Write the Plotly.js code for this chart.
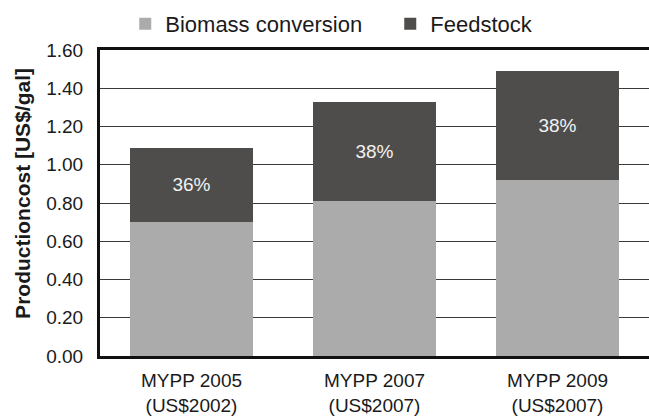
<!DOCTYPE html>
<html>
<head>
<meta charset="utf-8">
<script src="https://cdn.plot.ly/plotly-3.0.1.min.js"></script>
<style>html,body{margin:0;padding:0;background:#fff;}#chart{width:649px;height:419px;}</style>
</head>
<body>
<div id="chart"></div>
<script>
var categories = ["MYPP 2005<br>(US$2002)", "MYPP 2007<br>(US$2007)", "MYPP 2009<br>(US$2007)"];
var biomassConversion = [0.70, 0.81, 0.92];
var feedstock = [0.39, 0.52, 0.57];
var feedstockShare = ["36%", "38%", "38%"];
var yTickValues = [0, 0.2, 0.4, 0.6, 0.8, 1.0, 1.2, 1.4, 1.6];
var yTickLabels = ["0.00", "0.20", "0.40", "0.60", "0.80", "1.00", "1.20", "1.40", "1.60"];
var yTitle = "<b>Productioncost [US$/gal]</b>";

var FONT = "Liberation Sans, Arial, sans-serif";

var traces = [
  {
    type: "bar", name: "Biomass conversion", x: categories, y: biomassConversion,
    marker: {color: "#aaabaa", line: {width: 0}}, hoverinfo: "skip"
  },
  {
    type: "bar", name: "Feedstock", x: categories, y: feedstock,
    text: feedstockShare, textposition: "inside", insidetextanchor: "middle",
    textfont: {family: FONT, size: 19, color: "#f2f2f2"},
    marker: {color: "#4e4d4b", line: {width: 0}}, hoverinfo: "skip"
  }
];

var layout = {
  width: 649, height: 419,
  margin: {l: 100, r: 0, t: 50, b: 63, autoexpand: false},
  paper_bgcolor: "#ffffff", plot_bgcolor: "#ffffff",
  barmode: "stack", bargap: 0.33,
  font: {family: FONT, size: 19, color: "#1a1a1a"},
  showlegend: true,
  legend: {
    orientation: "h", xref: "container", yref: "container",
    x: 0.193, xanchor: "left", y: 0.943, yanchor: "middle",
    font: {family: FONT, size: 22, color: "#1a1a1a"},
    itemwidth: 30, entrywidth: 220, traceorder: "normal",
    bgcolor: "rgba(0,0,0,0)"
  },
  xaxis: {
    type: "category", range: [-0.5, 2.5],
    showline: true, linecolor: "#111111", linewidth: 3, mirror: true,
    ticks: "", showgrid: false, zeroline: false, ticklabelstandoff: 5,
    tickfont: {family: FONT, size: 19, color: "#1a1a1a"}
  },
  yaxis: {
    range: [0, 1.6], tickvals: yTickValues, ticktext: yTickLabels,
    showline: true, linecolor: "#111111", linewidth: 3, mirror: false,
    showgrid: true, gridcolor: "#3a3a3a", gridwidth: 1,
    zeroline: false, ticks: "", ticklabelstandoff: 10,
    tickfont: {family: FONT, size: 19, color: "#1a1a1a"}
  },
  annotations: [{
    text: yTitle, textangle: -90, showarrow: false,
    xref: "paper", yref: "paper", x: -0.1403, y: 0.533,
    xanchor: "center", yanchor: "middle",
    font: {family: FONT, size: 21, color: "#1a1a1a"}
  }]
};

Plotly.newPlot("chart", traces, layout, {staticPlot: true, displayModeBar: false});
</script>
</body>
</html>
